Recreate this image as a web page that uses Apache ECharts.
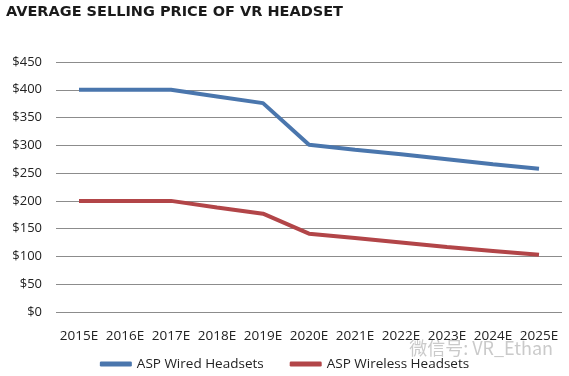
<!DOCTYPE html>
<html>
<head>
<meta charset="utf-8">
<script src="https://cdn.jsdelivr.net/npm/echarts@6/dist/echarts.min.js"></script>
<style>
  html, body { margin: 0; padding: 0; background: #fff; }
  #chart { width: 569px; height: 376px; }
</style>
</head>
<body>
<div id="chart"></div>
<script>
const years = ['2015E', '2016E', '2017E', '2018E', '2019E', '2020E', '2021E', '2022E', '2023E', '2024E', '2025E'];
const wired = [400, 400, 400, 388, 376, 301, 292, 284, 275, 266, 258];
const wireless = [200, 200, 200, 188, 177, 141, 133, 125, 117, 110, 103];
const seriesNames = ['ASP Wired Headsets', 'ASP Wireless Headsets'];

const chart = echarts.init(document.getElementById('chart'));
const labelFont = 'Open Sans';

const option = {
  animation: false,
  backgroundColor: '#fff',
  title: {
    text: 'AVERAGE SELLING PRICE OF VR HEADSET',
    left: 1,
    top: 0,
    textStyle: { fontFamily: 'DejaVu Sans', fontWeight: 'bold', fontSize: 14.5, color: '#1a1a1a' },
  },
  grid: { left: 56, right: 7, top: 62, bottom: 64 },
  xAxis: {
    type: 'category',
    data: years,
    boundaryGap: true,
    axisLine: { show: false },
    axisTick: { show: false },
    axisLabel: { interval: 0, color: '#222', fontFamily: labelFont, fontSize: 13.5, margin: 17 },
  },
  yAxis: {
    type: 'value',
    min: 0,
    max: 450,
    interval: 50,
    axisLine: { show: false },
    axisTick: { show: false },
    axisLabel: { color: '#222', fontFamily: labelFont, fontSize: 13, margin: 14, formatter: (v) => '$' + v },
    splitLine: { lineStyle: { color: '#8c8c8c', width: 1 } },
  },
  legend: {
    bottom: 0,
    left: 'center',
    icon: 'roundRect',
    itemWidth: 32,
    itemHeight: 5,
    itemGap: 26,
    textStyle: { color: '#222', fontFamily: labelFont, fontSize: 13.5 },
    data: seriesNames,
  },
  graphic: [
    {
      type: 'text',
      right: 16,
      bottom: 19,
      style: { text: '微信号: VR_Ethan', fill: '#cacaca', font: '18px "Noto Sans CJK SC"' },
    },
  ],
  series: [
    {
      name: seriesNames[0],
      type: 'line',
      data: wired,
      symbol: 'none',
      lineStyle: { color: '#4a76ad', width: 4 },
      itemStyle: { color: '#4a76ad' },
    },
    {
      name: seriesNames[1],
      type: 'line',
      data: wireless,
      symbol: 'none',
      lineStyle: { color: '#b24548', width: 4 },
      itemStyle: { color: '#b24548' },
    },
  ],
};
chart.setOption(option);
</script>
</body>
</html>
